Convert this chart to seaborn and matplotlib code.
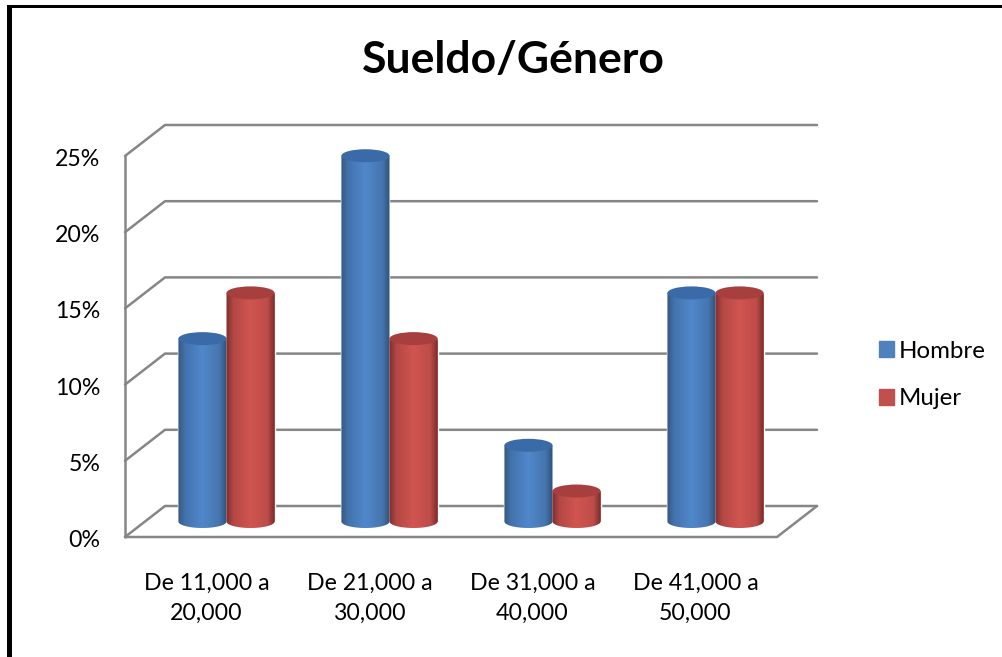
import numpy as np
import pandas as pd
import seaborn as sns
import matplotlib.pyplot as plt
from matplotlib.colors import LinearSegmentedColormap
from matplotlib.patches import Ellipse, PathPatch, Patch, Rectangle
from matplotlib.path import Path
from matplotlib.transforms import ScaledTranslation

# Datos del grafico
rangos = ['De 11,000 a\n20,000', 'De 21,000 a\n30,000', 'De 31,000 a\n40,000', 'De 41,000 a\n50,000']
hombre = [12, 24, 5, 15]
mujer = [15, 12, 2, 15]
ticks_y = [0, 5, 10, 15, 20, 25]

sns.set_theme(style='white')
plt.rcParams['font.family'] = ['Lato', 'DejaVu Sans']

df = pd.DataFrame({
    'rango': rangos * 2,
    'valor': hombre + mujer,
    'genero': ['Hombre'] * 4 + ['Mujer'] * 4,
})

W, H = 1003, 657
fig = plt.figure(figsize=(W / 100, H / 100), dpi=100)
# plano medio del grafico 3D (donde se apoyan los cilindros)
ax = fig.add_axes([145 / W, 1 - 521.5 / H, 652 / W, 381 / H])

colores = {'Hombre': '#4f81bd', 'Mujer': '#c0504d'}
sns.barplot(data=df, x='rango', y='valor', hue='genero', palette=colores,
            width=0.59, saturation=1, legend=False, ax=ax, zorder=1)
ax.set_xlim(-0.5, 3.5)
ax.set_ylim(0, 25)
ax.set_xlabel('')
ax.set_ylabel('')
sns.despine(ax=ax, left=True, bottom=True)

# desplazamiento de profundidad (en unidades de datos)
dx = 20 / 163
dy = 15.5 / 15.24
gris = '#868686'

# paredes y lineas de cuadricula
for t in ticks_y:
    ax.plot([-0.5 - dx, -0.5 + dx, 3.5 + dx], [t - dy, t + dy, t + dy],
            color=gris, lw=1.8, clip_on=False, zorder=0, solid_joinstyle='miter')
ax.plot([-0.5 - dx, -0.5 - dx], [-dy, 25 - dy], color=gris, lw=1.8, clip_on=False, zorder=0)
ax.plot([-0.5 - dx, 3.5 - dx, 3.5 + dx], [-dy, -dy, dy], color=gris, lw=1.8, clip_on=False, zorder=0)

# gradientes de los cilindros
mapas = [
    LinearSegmentedColormap.from_list('azul', [(0, '#36587f'), (0.15, '#4473ad'), (0.5, '#5088cc'),
                                               (0.85, '#4675ae'), (1, '#2f5178')]),
    LinearSegmentedColormap.from_list('rojo', [(0, '#7d2f2f'), (0.15, '#b34845'), (0.5, '#d15550'),
                                               (0.85, '#bd4c49'), (1, '#7a2b2b')]),
]
tapas = ['#3a6ba8', '#a83f3f']
rampa = np.linspace(0, 1, 128).reshape(1, -1)
alto = 6.5 / 15.24
t = np.linspace(0, np.pi, 60)

z = 2
for i in range(len(rangos)):
    for serie, cont in enumerate(ax.containers):
        bar = cont[i]
        x0, w, h = bar.get_x(), bar.get_width(), bar.get_height()
        cx = x0 + w / 2
        # silueta: rectangulo + media elipse abajo
        xs = np.r_[x0, cx - w / 2 * np.cos(t), x0 + w, x0]
        ys = np.r_[h, -alto * np.sin(t), h, h]
        img = ax.imshow(rampa, cmap=mapas[serie], extent=[x0, x0 + w, -alto, h],
                        aspect='auto', zorder=z)
        silueta = PathPatch(Path(np.c_[xs, ys]), transform=ax.transData, fc='none', ec='none')
        ax.add_patch(silueta)
        img.set_clip_path(silueta)
        img.set_clip_box(fig.bbox)
        ax.add_patch(Ellipse((cx, h), w, 2 * alto, fc=tapas[serie], ec='none', zorder=z + 0.5, clip_on=False))
        z += 1
ax.set_xlim(-0.5, 3.5)
ax.set_ylim(0, 25)

# ejes: etiquetas sobre el plano frontal
ax.set_yticks(ticks_y)
ax.set_yticklabels([f'{v}%' for v in ticks_y])
ax.tick_params(axis='y', length=0, pad=32, labelsize=16.7, labelcolor='black')
ax.tick_params(axis='x', length=0, pad=37, labelsize=16.7, labelcolor='black')
for lab in ax.get_yticklabels():
    lab.set_transform(lab.get_transform() + ScaledTranslation(0, -17 / 100, fig.dpi_scale_trans))
for lab in ax.get_xticklabels():
    lab.set_linespacing(1.5)
    lab.set_transform(lab.get_transform() + ScaledTranslation(-20 / 100, 0, fig.dpi_scale_trans))

# leyenda
manejadores = [Patch(color=colores[g], label=g) for g in colores]
fig.legend(handles=manejadores, loc='center left', bbox_to_anchor=(879 / W, 1 - 375 / H),
           frameon=False, fontsize=17.3, handlelength=0.62, handleheight=0.62,
           handletextpad=0.22, labelspacing=1.12, labelcolor='black', borderpad=0, borderaxespad=0)

fig.text(513 / W, 1 - 60 / H, 'Sueldo/Género', ha='center', va='center',
         fontsize=32, fontweight='bold', color='black')

# marco negro (izquierda y arriba)
fig.add_artist(Rectangle((7 / W, 0), 5 / W, 1 - 5 / H, transform=fig.transFigure, fc='black', ec='none'))
fig.add_artist(Rectangle((7 / W, 1 - 8 / H), 1 - 7 / W, 3 / H, transform=fig.transFigure, fc='black', ec='none'))

fig.savefig('out.png', dpi=100)
